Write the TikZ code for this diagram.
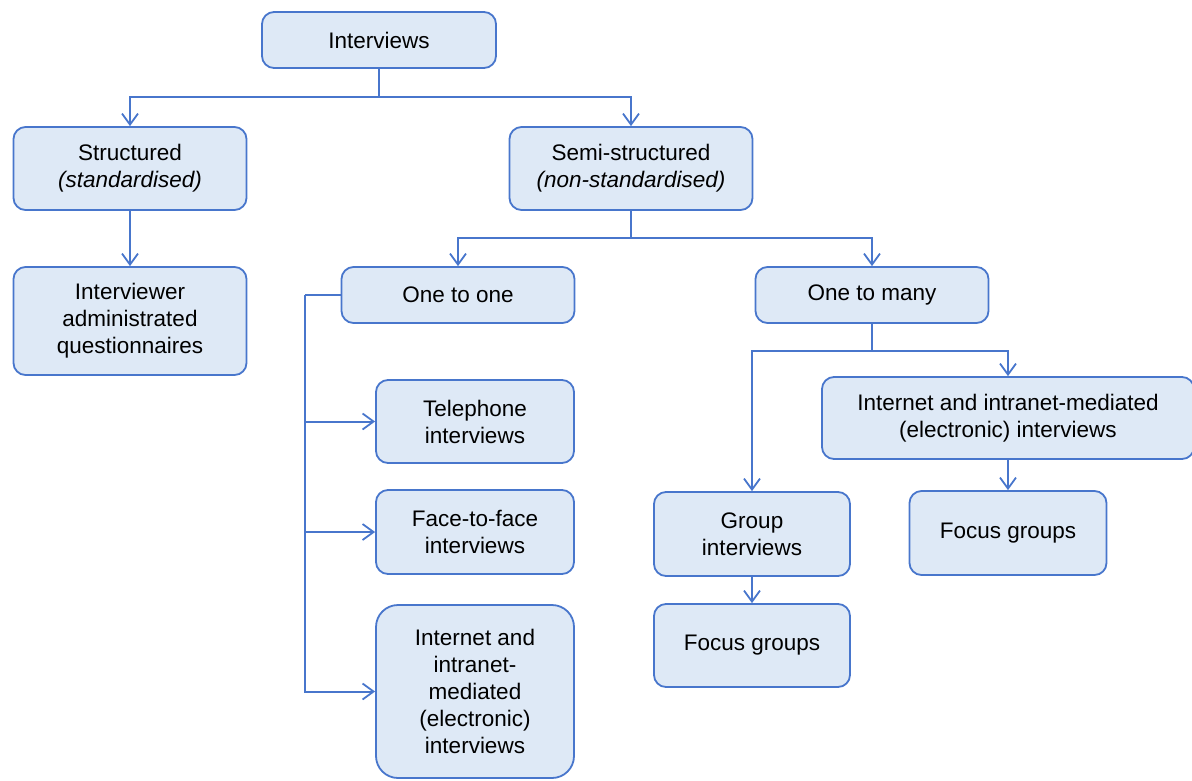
\documentclass[tikz,border=0pt]{standalone}
\usepackage{fontspec}
\setmainfont{Liberation Sans}
\usetikzlibrary{arrows.meta}
\definecolor{edgeblue}{RGB}{72,118,204}
\definecolor{boxfill}{RGB}{222,233,246}
\begin{document}
\begin{tikzpicture}[x=1pt,y=-1pt,
  box/.style={draw=edgeblue, fill=boxfill, line width=1.8pt, rounded corners=12pt,
    align=center, inner sep=0pt, text=black,
    font=\fontsize{22.5}{27}\selectfont},
  link/.style={draw=edgeblue, line width=2pt},
  arr/.style={link, -{Straight Barb[length=11pt,width=16pt,line width=1.8pt]}}]
\useasboundingbox (0,0) rectangle (1192,780);

% top level
\node[box, minimum width=234pt, minimum height=56pt] (int) at (379,40) {Interviews};
\node[box, minimum width=233pt, minimum height=83pt] (str) at (130,168.5) {Structured\\\textit{(standardised)}};
\node[box, minimum width=243pt, minimum height=83pt] (semi) at (631,168.5) {Semi-structured\\\textit{(non-standardised)}};
\node[box, minimum width=233pt, minimum height=108pt] (iaq) at (130,321) {Interviewer\\administrated\\questionnaires};

% semi-structured branches
\node[box, minimum width=233pt, minimum height=56pt] (oto) at (458,295) {One to one};
\node[box, minimum width=233pt, minimum height=56pt] (otm) at (872,295) {One to many};

% one to one
\node[box, minimum width=198pt, minimum height=83pt] (tel) at (475,421.5) {Telephone\\interviews};
\node[box, minimum width=198pt, minimum height=84pt] (ftf) at (475,532) {Face-to-face\\interviews};
\node[box, rounded corners=22pt, minimum width=198pt, minimum height=173pt] (iel) at (475,691.5) {Internet and\\intranet-\\mediated\\(electronic)\\interviews};

% one to many
\node[box, minimum width=372pt, minimum height=82pt] (ier) at (1008,418) {Internet and intranet-mediated\\(electronic) interviews};
\node[box, minimum width=197pt, minimum height=84pt] (fgr) at (1008,533) {Focus groups};
\node[box, minimum width=196pt, minimum height=84pt] (grp) at (752,534) {Group\\interviews};
\node[box, minimum width=196pt, minimum height=83pt] (fgl) at (752,645.5) {Focus groups};

% connectors
\coordinate (j1) at (379,97);
\draw[link] (int.south) -- (j1);
\draw[arr] (j1) -| (str.north);
\draw[arr] (j1) -| (semi.north);
\draw[arr] (str.south) -- (iaq.north);

\coordinate (j2) at (631,238);
\draw[link] (semi.south) -- (j2);
\draw[arr] (j2) -| (oto.north);
\draw[arr] (j2) -| (otm.north);

\coordinate (v1) at (305,295);
\draw[link] (oto.west) -- (v1);
\draw[arr] (v1) |- (tel.west);
\draw[arr] (v1) |- (ftf.west);
\draw[arr] (v1) |- (iel.west);

\coordinate (j3) at (872,351);
\draw[link] (otm.south) -- (j3);
\draw[arr] (j3) -| (grp.north);
\draw[arr] (j3) -| (ier.north);
\draw[arr] (ier.south) -- (fgr.north);
\draw[arr] (grp.south) -- (fgl.north);
\end{tikzpicture}
\end{document}
